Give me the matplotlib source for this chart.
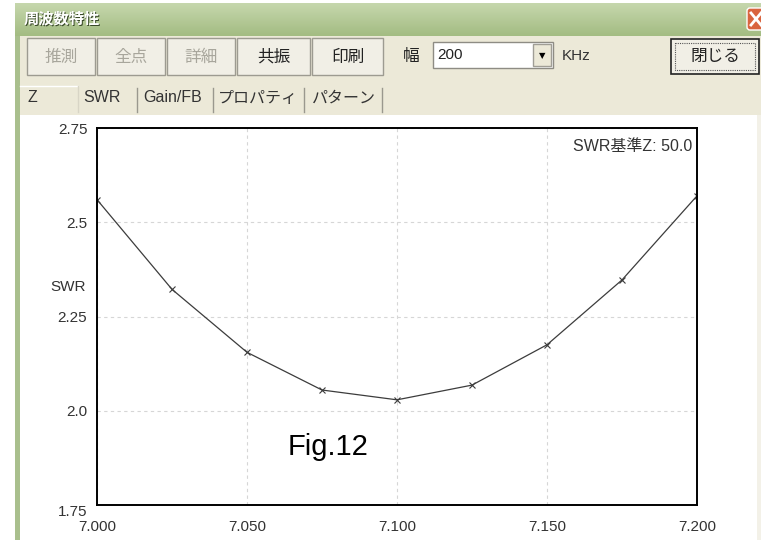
import numpy as np
import matplotlib
matplotlib.use("Agg")
import matplotlib.pyplot as plt
from matplotlib.patches import Rectangle, FancyBboxPatch
from matplotlib.transforms import ScaledTranslation

plt.rcParams['font.family'] = ['Liberation Sans', 'Noto Sans CJK JP']

# SWR sweep (MHz / SWR)
freq = [7.000, 7.025, 7.050, 7.075, 7.100, 7.125, 7.150, 7.175, 7.200]
swr = [2.56, 2.322, 2.155, 2.055, 2.029, 2.068, 2.175, 2.347, 2.57]

xticks = [7.000, 7.050, 7.100, 7.150, 7.200]
xtick_labels = ["7.000", "7.050", "7.100", "7.150", "7.200"]
yticks = [1.75, 2.0, 2.25, 2.5, 2.75]
ytick_labels = ["1.75", "2.0", "2.25", "2.5", "2.75"]

buttons = ["推測", "全点", "詳細", "共振", "印刷"]
button_enabled = [False, False, False, True, True]
tabs = ["Z", "SWR", "Gain/FB", "プロパティ", "パターン"]

W, H = 761, 540
fig = plt.figure(figsize=(W / 100, H / 100), dpi=100)
fig.patch.set_facecolor("white")

# --- window chrome drawn in pixel coords on a background axes ---
bg = fig.add_axes([0, 0, 1, 1], zorder=0)
bg.set_xlim(0, W)
bg.set_ylim(H, 0)
bg.axis("off")

# title bar gradient
grad = np.linspace(0, 1, 64).reshape(-1, 1)
cmap = matplotlib.colors.LinearSegmentedColormap.from_list("tb", ["#c6d7ad", "#a3bc82"])
bg.imshow(grad, extent=(15, W, 36, 3), cmap=cmap, aspect="auto", zorder=1)
bg.add_patch(Rectangle((15, 36), 5, H - 36, facecolor="#a9bf8d", edgecolor="none", zorder=1))
bg.add_patch(Rectangle((20, 36), W - 20, 80, facecolor="#ece9d8", edgecolor="none", zorder=1))
bg.add_patch(Rectangle((20, 115), 737, H - 115, facecolor="white", edgecolor="none", zorder=1))
bg.add_patch(Rectangle((757, 115), 4, H - 115, facecolor="#f3f1e8", edgecolor="none", zorder=1))
bg.text(25, 20, "周波数特性", color="#3a4a2a", fontsize=11, fontweight="bold", va="center", zorder=2)
bg.text(24, 19, "周波数特性", color="white", fontsize=11, fontweight="bold", va="center", zorder=3)

# close button (cut off at right edge)
bg.add_patch(FancyBboxPatch((747, 8), 20, 22, boxstyle="round,pad=0,rounding_size=3",
                            facecolor="#d9643f", edgecolor="white", lw=1, zorder=2))
bg.plot([751, 761], [13, 25], color="white", lw=2, zorder=3)
bg.plot([751, 761], [25, 13], color="white", lw=2, zorder=3)

# toolbar buttons
bx = [27, 97, 167, 237, 312]
bw = [68, 68, 68, 73, 71]
for x0, w, lab, on in zip(bx, bw, buttons, button_enabled):
    bg.add_patch(Rectangle((x0, 38), w, 37, facecolor="#f1efe6", edgecolor="#9d9b91", lw=1, zorder=2))
    bg.text(x0 + w / 2, 57, lab, fontsize=12, ha="center", va="center",
            color="#222222" if on else "#a8a69c", zorder=3)

bg.text(411, 56, "幅", fontsize=12, ha="center", va="center", color="#222222", zorder=3)
bg.add_patch(Rectangle((433, 42), 120, 26, facecolor="white", edgecolor="#8e8c84", lw=1, zorder=2))
bg.text(437, 55, "200", fontsize=11, va="center", color="#222222", zorder=3)
bg.add_patch(Rectangle((533, 44), 18, 22, facecolor="#ece9d8", edgecolor="#a09e96", lw=1, zorder=3))
bg.text(542, 56, "▼", fontsize=6, ha="center", va="center", color="black",
        family="DejaVu Sans", zorder=4)
bg.text(562, 56, "KHz", fontsize=11, va="center", color="#333333", zorder=3)
bg.add_patch(Rectangle((671, 39), 88, 35, facecolor="#f1efe6", edgecolor="#222222", lw=1.2, zorder=2))
bg.add_patch(Rectangle((675, 43), 80, 27, facecolor="none", edgecolor="#555555", lw=0.8,
                       linestyle=(0, (1, 1)), zorder=3))
bg.text(715, 56, "閉じる", fontsize=12, ha="center", va="center", color="#222222", zorder=4)

# tab row
tab_x = [28, 102, 173, 258, 344]
tab_ha = ["left", "center", "center", "center", "center"]
for x0, lab, ha in zip(tab_x, tabs, tab_ha):
    bg.text(x0, 98, lab, fontsize=11.5, ha=ha, va="center", color="#333333", zorder=3)
for sx in [137, 213, 304, 382]:
    bg.plot([sx, sx], [88, 112], color="#9a988e", lw=1, zorder=3)
bg.plot([20, 78], [86, 86], color="white", lw=1, zorder=3)
bg.plot([78, 78], [86, 112], color="#d8d5c6", lw=1, zorder=3)

# --- SWR chart ---
ax = fig.add_axes([97 / W, 1 - 505 / H, 600 / W, 377 / H], zorder=1)
ax.set_facecolor("white")
ax.plot(freq, swr, color="#3c3c3c", lw=0.9, marker="x", markersize=5, markeredgewidth=0.8)

ax.set_xlim(7.0, 7.2)
ax.set_ylim(1.75, 2.75)
ax.set_xticks(xticks)
ax.set_xticklabels(xtick_labels)
ax.set_yticks(yticks)
ax.set_yticklabels(ytick_labels)
ax.tick_params(length=0, labelsize=11, labelcolor="#333333")
ax.tick_params(axis="y", pad=7)
ax.tick_params(axis="x", pad=11)
ax.grid(color="#d6d6d6", linestyle=(0, (3, 3)), lw=0.8)
for s in ax.spines.values():
    s.set_color("black")
    s.set_linewidth(1.4)

# bottom y label sits a bit lower than its grid position
lab0 = ax.get_yticklabels()[0]
lab0.set_transform(lab0.get_transform() + ScaledTranslation(0, -6 / 100, fig.dpi_scale_trans))

ax.set_ylabel("SWR", rotation=0, fontsize=11, color="#333333", ha="center", va="center")
ax.yaxis.set_label_coords(-0.048, 0.578)

ax.text(0.992, 0.952, "SWR基準Z: 50.0", transform=ax.transAxes, ha="right", va="center",
        fontsize=11.5, color="#333333")
ax.text(0.318, 0.154, "Fig.12", transform=ax.transAxes, ha="left", va="center",
        fontsize=21, color="black")

fig.savefig("out.png", dpi=100)
